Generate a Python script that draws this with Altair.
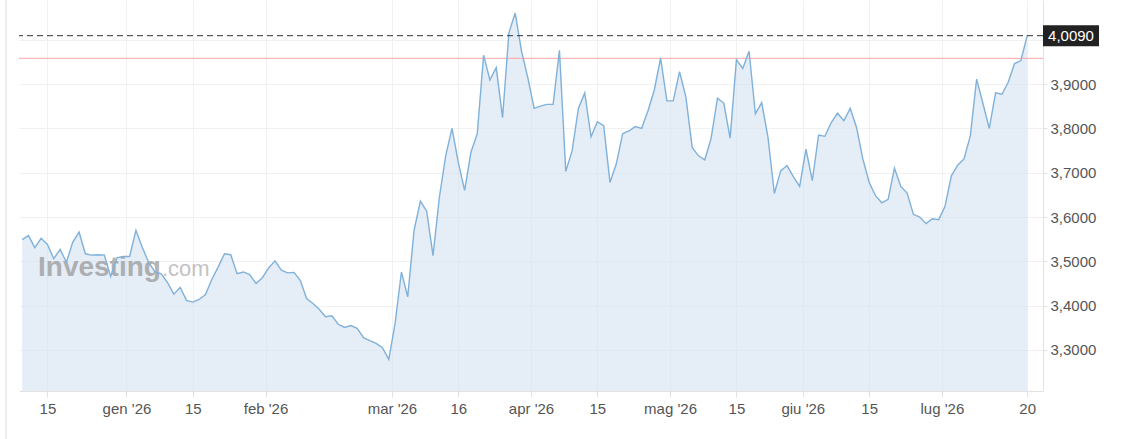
import json
import altair as alt
import pandas as pd

# ---- data ----
values = [
    3.549, 3.558, 3.531, 3.552, 3.538, 3.506, 3.527, 3.498, 3.543, 3.566,
    3.517, 3.514, 3.515, 3.514, 3.466, 3.508, 3.511, 3.511, 3.570, 3.532,
    3.498, 3.476, 3.472, 3.452, 3.426, 3.441, 3.412, 3.408, 3.414, 3.425,
    3.459, 3.487, 3.517, 3.515, 3.472, 3.476, 3.470, 3.450, 3.463, 3.485,
    3.501, 3.480, 3.474, 3.475, 3.457, 3.416, 3.405, 3.392, 3.375, 3.377,
    3.358, 3.351, 3.355, 3.349, 3.328, 3.321, 3.315, 3.305, 3.279, 3.360,
    3.476, 3.420, 3.570, 3.636, 3.613, 3.513, 3.644, 3.738, 3.800, 3.723,
    3.660, 3.746, 3.788, 3.965, 3.909, 3.937, 3.824, 4.015, 4.060, 3.974,
    3.914, 3.845, 3.850, 3.854, 3.854, 3.976, 3.703, 3.749, 3.845, 3.880,
    3.781, 3.815, 3.806, 3.678, 3.720, 3.788, 3.794, 3.804, 3.800, 3.839,
    3.886, 3.959, 3.862, 3.862, 3.928, 3.871, 3.757, 3.738, 3.729, 3.778,
    3.868, 3.857, 3.778, 3.955, 3.935, 3.974, 3.833, 3.858, 3.779, 3.653,
    3.704, 3.716, 3.691, 3.669, 3.753, 3.682, 3.785, 3.782, 3.813, 3.834,
    3.817, 3.845, 3.802, 3.731, 3.678, 3.648, 3.632, 3.640, 3.710, 3.669,
    3.654, 3.606, 3.600, 3.585, 3.596, 3.594, 3.624, 3.693, 3.717, 3.731,
    3.783, 3.911, 3.856, 3.800, 3.880, 3.877, 3.904, 3.946, 3.953, 4.009,
]
start_date = "2025-12-09"
end_date = "2026-07-20"
tick_dates = ["2025-12-15", "2026-01-01", "2026-01-15", "2026-02-01", "2026-03-01",
              "2026-03-16", "2026-04-01", "2026-04-15", "2026-05-01", "2026-05-15",
              "2026-06-01", "2026-06-15", "2026-07-01", "2026-07-20"]
tick_labels = ["15", "gen '26", "15", "feb '26", "mar '26", "16", "apr '26", "15",
               "mag '26", "15", "giu '26", "15", "lug '26", "20"]
y_ticks = [3.3, 3.4, 3.5, 3.6, 3.7, 3.8, 3.9, 4.0]
ref_level = 3.958
last_label = "4,0090"
y_domain = [3.2075, 4.0895]

# ---- build table ----
dates = pd.bdate_range(start_date, end_date)
df = pd.DataFrame({"i": list(range(len(values))),
                   "date": dates.strftime("%Y-%m-%d")[: len(values)],
                   "v": values})

tick_pos = []
for d, lab in zip(tick_dates, tick_labels):
    idx = int((dates < pd.Timestamp(d)).sum())
    tick_pos.append(idx - 0.5 if "'" in lab else float(idx))

W, H = 1024, 391
FONT = "Liberation Sans"

x_enc = alt.X(
    "i:Q",
    scale=alt.Scale(domain=[-0.5, 161.5], nice=False, zero=False),
    axis=alt.Axis(
        values=tick_pos,
        labelExpr=f"{json.dumps(tick_labels)}[indexof({json.dumps(tick_pos)}, datum.value)]",
        title=None, grid=True, gridColor="#f1f1f1", domainColor="#e2e2e2",
        tickColor="#e2e2e2", tickSize=6, labelPadding=4, labelColor="#555555",
        labelFont=FONT, labelFontSize=15, labelFlush=False, labelOverlap=False,
    ),
)
y_enc = alt.Y(
    "v:Q",
    scale=alt.Scale(domain=y_domain, nice=False, zero=False),
    axis=alt.Axis(
        orient="right", values=y_ticks,
        # the 4,0000 label sits under the last-price box, so it is left blank
        labelExpr="datum.value > 3.95 ? '' : replace(format(datum.value, '.4f'), '.', ',')",
        title=None, grid=True, gridColor="#f1f1f1", domainColor="#e2e2e2",
        tickColor="#e2e2e2", tickSize=4, labelPadding=3, labelColor="#555555",
        labelFont=FONT, labelFontSize=15, labelOverlap=False,
    ),
)

base = alt.Chart(df)
area = base.mark_area(fill="#cfdfee", fillOpacity=0.55, clip=True).encode(
    x=x_enc, y=y_enc, y2=alt.Y2(datum=y_domain[0]))
line = base.mark_line(color="#7fb1da", strokeWidth=1.4).encode(x=x_enc, y=y_enc)

one = pd.DataFrame({"v": [values[-1]], "label": [last_label]})
ref_df = pd.DataFrame({"v": [ref_level]})

wm1 = alt.Chart(one).mark_text(
    align="left", baseline="alphabetic", font=FONT, fontSize=28, fontWeight="bold",
    color="#9a9a9a", opacity=0.75,
).encode(x=alt.value(19), y=alt.value(276), text=alt.value("Investing"))
wm2 = alt.Chart(one).mark_text(
    align="left", baseline="alphabetic", font=FONT, fontSize=22,
    color="#b5b5b5", opacity=0.8,
).encode(x=alt.value(143), y=alt.value(276), text=alt.value(".com"))

red = alt.Chart(ref_df).mark_rule(color="#ffa3a3", strokeWidth=1).encode(y="v:Q")
dashed = alt.Chart(one).mark_rule(color="#333333", strokeWidth=1, strokeDash=[6, 4]).encode(y="v:Q")
box = alt.Chart(one).mark_rect(color="#222222", yOffset=-10.5, y2Offset=10.5).encode(
    y="v:Q", y2="v", x=alt.value(W), x2=alt.value(W + 56))
box_txt = alt.Chart(one).mark_text(
    color="white", font=FONT, fontSize=15, align="center", baseline="middle"
).encode(y="v:Q", x=alt.value(W + 28), text="label:N")
border = alt.Chart(one).mark_rule(color="#dddddd").encode(
    x=alt.value(-13), y=alt.value(0), y2=alt.value(439))

chart = alt.layer(area, wm1, wm2, red, line, dashed, box, box_txt, border).properties(
    width=W, height=H,
    autosize=alt.AutoSizeParams(type="none"),
    padding={"left": 19, "top": 0, "right": 85, "bottom": 48},
    background="white",
).configure_view(strokeWidth=0)

chart.save("out.html", embed_options={"renderer": "svg", "actions": False})
